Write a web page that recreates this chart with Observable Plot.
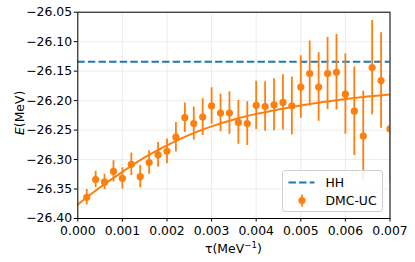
<!DOCTYPE html>
<html>
<head>
<meta charset="utf-8">
<script src="https://cdn.jsdelivr.net/npm/d3@7"></script>
<script src="https://cdn.jsdelivr.net/npm/@observablehq/plot@0.6"></script>
<style>
  html, body { margin: 0; padding: 0; background: #fff; }
  #wrap { position: relative; width: 415px; height: 262px; font-family: "DejaVu Sans", sans-serif; }
  #legend { position: absolute; left: 281.5px; top: 169.5px; width: 101px; height: 42px;
            border: 1px solid #d0d0d0; border-radius: 3px; background: rgba(255,255,255,0.85); box-sizing: border-box; }
</style>
</head>
<body>
<div id="wrap"></div>
<script>
// ---- data ----
const tau = [0.0002,0.0004,0.0006,0.0008,0.0010,0.0012,0.0014,0.0016,0.0018,0.0020,
             0.0022,0.0024,0.0026,0.0028,0.0030,0.0032,0.0034,0.0036,0.0038,0.0040,
             0.0042,0.0044,0.0046,0.0048,0.0050,0.0052,0.0054,0.0056,0.0058,0.0060,
             0.0062,0.0064,0.0066,0.0068,0.0070];
const energy = [-26.364,-26.334,-26.338,-26.320,-26.332,-26.308,-26.329,-26.305,-26.292,-26.286,
                -26.262,-26.229,-26.239,-26.228,-26.209,-26.221,-26.221,-26.237,-26.239,-26.208,
                -26.210,-26.207,-26.203,-26.209,-26.177,-26.154,-26.177,-26.154,-26.152,-26.189,
                -26.218,-26.260,-26.144,-26.166,-26.248];
const errors = [0.013,0.014,0.013,0.018,0.018,0.019,0.019,0.020,0.021,0.021,
                0.025,0.025,0.028,0.031,0.031,0.032,0.036,0.037,0.037,0.041,
                0.042,0.044,0.047,0.049,0.053,0.055,0.058,0.061,0.064,0.068,
                0.075,0.076,0.080,0.081,0.090];
const fitTau = [0,0.0005,0.001,0.0015,0.002,0.0025,0.003,0.0035,0.004,0.0045,0.005,0.0055,0.006,0.0065,0.007];
const fitE = [-26.3764,-26.3471,-26.3208,-26.2963,-26.2759,-26.2581,-26.2437,-26.2319,-26.2225,-26.2149,
              -26.2081,-26.2022,-26.1971,-26.1929,-26.1895];
const hhEnergy = -26.134;
const xTicks = [0,0.001,0.002,0.003,0.004,0.005,0.006,0.007];
const yTicks = [-26.40,-26.35,-26.30,-26.25,-26.20,-26.15,-26.10,-26.05];
const seriesNames = ["HH", "DMC-UC"];

const orange = "#ff7f0e", blue = "#1f77b4";
const pts = tau.map((t, i) => ({tau: t, E: energy[i], err: errors[i]}));
const fit = fitTau.map((t, i) => ({tau: t, E: fitE[i]}));

const W = 415, H = 262, mL = 77.3, mR = 25.5, mT = 11.7, mB = 44;
const fs = 12.4;

const chart = Plot.plot({
  width: W, height: H,
  marginLeft: mL, marginRight: mR, marginTop: mT, marginBottom: mB,
  style: {fontFamily: "DejaVu Sans, sans-serif", fontSize: fs + "px", color: "#000", background: "#fff"},
  x: {domain: [0, 0.007]},
  y: {domain: [-26.40, -26.05]},
  marks: [
    Plot.gridX(xTicks, {stroke: "#ececec", strokeOpacity: 1}),
    Plot.gridY(yTicks, {stroke: "#ececec", strokeOpacity: 1}),
    Plot.ruleY([hhEnergy], {stroke: blue, strokeWidth: 2, strokeDasharray: "7.4,3.2"}),
    Plot.line(fit, {x: "tau", y: "E", stroke: orange, strokeWidth: 2, curve: "natural", clip: true}),
    Plot.ruleX(pts, {x: "tau", y1: d => d.E - d.err, y2: d => d.E + d.err, stroke: orange, strokeWidth: 1.8, clip: true}),
    Plot.dot(pts, {x: "tau", y: "E", r: 3.6, fill: orange, stroke: "none", clip: true}),
    Plot.axisX({ticks: xTicks, tickFormat: d3.format(".3f"), tickSize: 3.5, tickPadding: 4.5, label: null, fontSize: fs}),
    Plot.axisY({ticks: yTicks, tickFormat: d3.format(".2f"), tickSize: 3.5, tickPadding: 2.2, label: null, fontSize: fs}),
    Plot.frame({stroke: "#000", strokeWidth: 1})
  ]
});

const wrap = document.getElementById("wrap");
wrap.appendChild(chart);

// axis titles
const svg = d3.select(chart);
const xt = svg.append("text")
  .attr("x", mL + (W - mL - mR) / 2).attr("y", 252.5)
  .attr("text-anchor", "middle").attr("font-size", fs).attr("fill", "#000");
xt.append("tspan").text("τ(MeV");
xt.append("tspan").attr("font-size", fs * 0.7).attr("dy", -5).text("−1");
xt.append("tspan").attr("dy", 5).text(")");

const yt = svg.append("text")
  .attr("transform", `translate(23.5, ${mT + (H - mT - mB) / 2 - 2}) rotate(-90)`)
  .attr("text-anchor", "middle").attr("font-size", fs).attr("fill", "#000");
yt.append("tspan").attr("font-style", "italic").text("E");
yt.append("tspan").text("(MeV)");

// legend
const leg = d3.select(wrap).append("div").attr("id", "legend");
const ls = leg.append("svg").attr("width", 101).attr("height", 42);
ls.append("line").attr("x1", 5.5).attr("x2", 31.5).attr("y1", 11.5).attr("y2", 11.5)
  .attr("stroke", blue).attr("stroke-width", 2).attr("stroke-dasharray", "7.4,3.2");
ls.append("line").attr("x1", 19).attr("x2", 19).attr("y1", 23.5).attr("y2", 35.5)
  .attr("stroke", orange).attr("stroke-width", 1.8);
ls.append("circle").attr("cx", 19).attr("cy", 29.5).attr("r", 3.6).attr("fill", orange);
ls.append("text").attr("x", 42.5).attr("y", 16).attr("font-size", fs).attr("font-family", "DejaVu Sans").text(seriesNames[0]);
ls.append("text").attr("x", 42.5).attr("y", 34).attr("font-size", fs).attr("font-family", "DejaVu Sans").text(seriesNames[1]);
</script>
</body>
</html>
